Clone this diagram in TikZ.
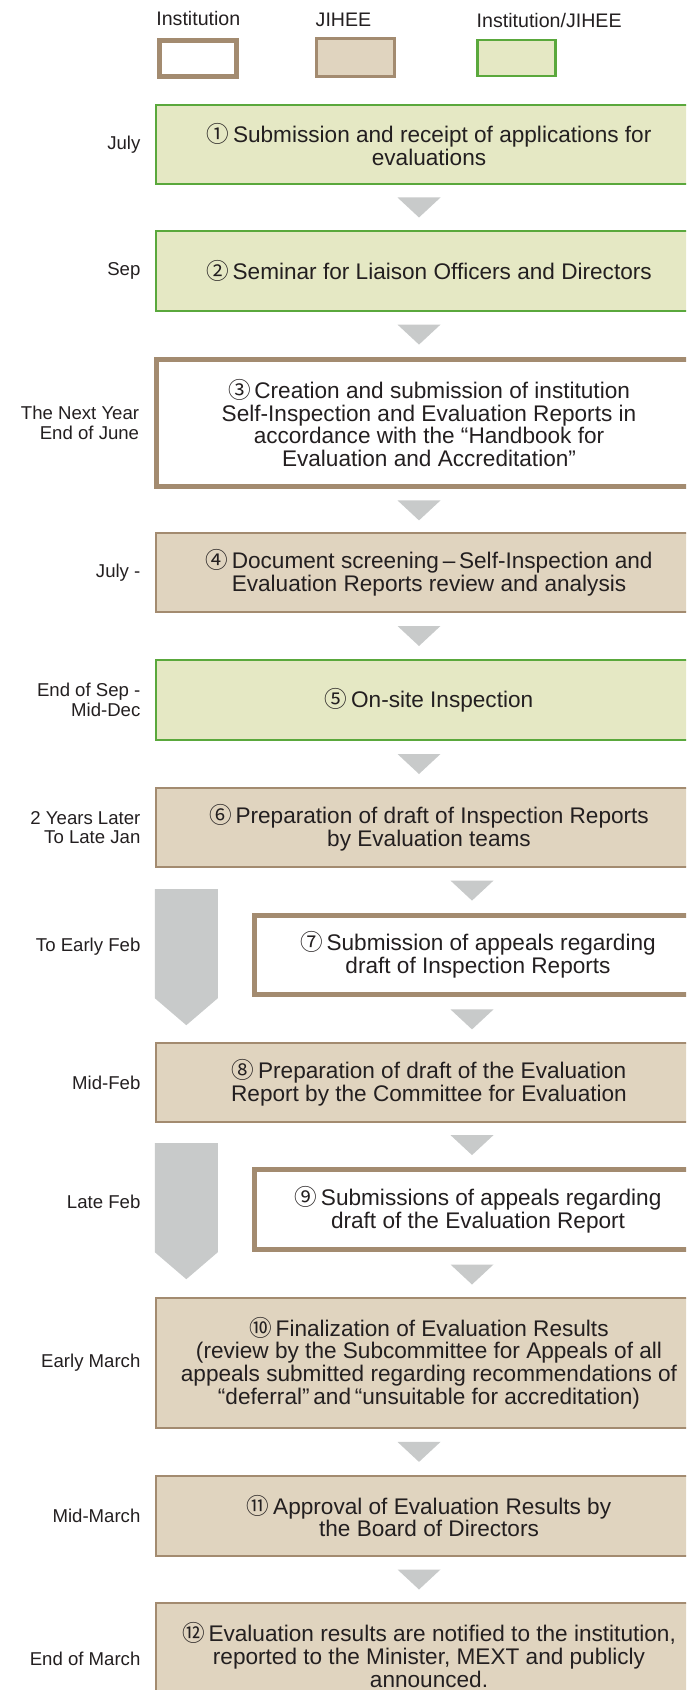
\documentclass[tikz,border=0pt]{standalone}
\usepackage{fontspec}
\setmainfont{Liberation Sans}
\newfontfamily\circfont{Noto Sans CJK JP}
\usepackage{tikz}
\usetikzlibrary{positioning,calc}
\definecolor{instbrown}{RGB}{163,139,112}
\definecolor{jiheetan}{RGB}{224,212,191}
\definecolor{jointgreen}{RGB}{90,168,60}
\definecolor{jointlight}{RGB}{229,232,196}
\definecolor{flowgray}{RGB}{200,202,202}
\definecolor{inktext}{RGB}{35,31,32}
\newcommand{\circnum}[1]{{\circfont #1}\,}

\begin{document}
\begin{tikzpicture}[x=0.5pt, y=-0.5pt,
box/.style={minimum width=273pt, align=center, text=inktext, inner sep=0pt,
font=\fontsize{11.3}{11.35}\selectfont},
instbox/.style={box, draw=instbrown, line width=2.5pt, fill=white},
jiheebox/.style={box, draw=instbrown, line width=1.2pt, fill=jiheetan},
jointbox/.style={box, draw=jointgreen, line width=1.2pt, fill=jointlight},
when/.style={align=right, text=inktext, inner sep=0pt, font=\fontsize{9.3}{9.7}\selectfont},
keytext/.style={text=inktext, inner sep=0pt, font=\fontsize{9.8}{10}\selectfont},
fallmark/.pic={\fill[flowgray] (-21.5,-10) -- (21.5,-10) -- (0,10) -- cycle;},
spanarrow/.pic={\fill[flowgray] (0,0) -- (63,0) -- (63,109) -- (31.5,136) -- (0,109) -- cycle;}
]
\path[use as bounding box] (0,0) rectangle (686,1690);
\clip (0,0) rectangle (686,1690);

% legend
\node[instbox, minimum width=38.5pt, minimum height=18pt] (k1) at (198,58.5) {};
\node[jiheebox, minimum width=39pt, minimum height=19pt] (k2) at (355.5,57.5) {};
\node[jointbox, minimum width=39pt, minimum height=18pt] (k3) at (516.5,58) {};
\node[keytext, anchor=base west] (l1) at ($(k1.north west)+(-1,-12)$) {Institution};
\node[keytext, anchor=base west] (l2) at ($(k2.north west)+(0,-11)$) {JIHEE};
\node[keytext, anchor=base west] (l3) at ($(k3.north west)+(0,-11)$) {Institution/JIHEE};

% steps
\node[jointbox, minimum height=39.5pt] (b1) at (429,144.5)
{\circnum{①}Submission and receipt of applications for\\evaluations};
\node[jointbox, minimum height=40pt] (b2) at (429,271)
{\circnum{②}Seminar for Liaison Officers and Directors};
\node[instbox, minimum height=63.5pt] (b3) at (429,423)
{\circnum{③}Creation and submission of institution\\
Self-Inspection and Evaluation Reports in\\
accordance with the “Handbook for\\
Evaluation and Accreditation”};
\node[jiheebox, minimum height=39.5pt] (b4) at (429,572.5)
{\circnum{④}Document screening\,–\,Self-Inspection and\\
Evaluation Reports review and analysis};
\node[jointbox, minimum height=40pt] (b5) at (429,700)
{\circnum{⑤}On-site Inspection};
\node[jiheebox, minimum height=39.5pt] (b6) at (429,827.5)
{\circnum{⑥}Preparation of draft of Inspection Reports\\by Evaluation teams};
\node[instbox, minimum width=224pt, minimum height=39.5pt] (b7) at (478,955)
{\circnum{⑦}Submission of appeals regarding\\draft of Inspection Reports};
\node[jiheebox, minimum height=39.5pt] (b8) at (429,1082.5)
{\circnum{⑧}Preparation of draft of the Evaluation\\
Report by the Committee for Evaluation};
\node[instbox, minimum width=224pt, minimum height=40pt] (b9) at (478,1209.5)
{\circnum{⑨}Submissions of appeals regarding\\draft of the Evaluation Report};
\node[jiheebox, minimum height=64.8pt] (b10) at (429,1363)
{\circnum{⑩}Finalization of Evaluation Results\\
(review by the Subcommittee for Appeals of all\\
appeals submitted regarding recommendations of\\
“deferral”\,and\,“unsuitable for accreditation)};
\node[jiheebox, minimum height=40pt] (b11) at (429,1516)
{\circnum{⑪}Approval of Evaluation Results by\\the Board of Directors};
\node[jiheebox, minimum height=52pt] (b12) at (429,1655)
{\circnum{⑫}Evaluation results are notified to the institution,\\
reported to the Minister, MEXT and publicly\\announced.};

% timing
\node[when, left=7pt of b1] (t1) {July};
\node[when, left=7pt of b2] (t2) {Sep};
\node[when, left=7pt of b3] (t3) {The Next Year\\End of June};
\node[when, left=7pt of b4] (t4) {July -};
\node[when, left=7pt of b5] (t5) {End of Sep -\\Mid-Dec};
\node[when, left=7pt of b6] (t6) {2 Years Later\\To Late Jan};
\node[when, anchor=east] (t7) at ($(b6.west |- b7.west)+(-14,-8)$) {To Early Feb};
\node[when, left=7pt of b8] (t8) {Mid-Feb};
\node[when, anchor=east] (t9) at ($(b8.west |- b9.west)+(-14,-8)$) {Late Feb};
\node[when, left=7pt of b10] (t10) {Early March};
\node[when, left=7pt of b11] (t11) {Mid-March};
\node[when, anchor=east] (t12) at ($(b11.west |- b12.west)+(-14,4)$) {End of March};

% flow marks
\pic at ($(b1.south)!.5!(b2.north)+(-10,0)$) {fallmark};
\pic at ($(b2.south)!.5!(b3.north)+(-10,0)$) {fallmark};
\pic at ($(b3.south)!.5!(b4.north)+(-10,0)$) {fallmark};
\pic at ($(b4.south)!.5!(b5.north)+(-10,0)$) {fallmark};
\pic at ($(b5.south)!.5!(b6.north)+(-10,0)$) {fallmark};
\pic at ($(b6.south -| b7.north)!.5!(b7.north)+(-6,0)$) {fallmark};
\pic at ($(b7.south)!.5!(b7.south |- b8.north)+(-6,0)$) {fallmark};
\pic at ($(b8.south -| b9.north)!.5!(b9.north)+(-6,0)$) {fallmark};
\pic at ($(b9.south)!.5!(b9.south |- b10.north)+(-6,0)$) {fallmark};
\pic at ($(b10.south)!.5!(b11.north)+(-10,0)$) {fallmark};
\pic at ($(b11.south)!.5!(b12.north)+(-10,0)$) {fallmark};

\pic at ($(b6.south west)+(0,21)$) {spanarrow};
\pic at ($(b8.south west)+(0,20)$) {spanarrow};

\end{tikzpicture}
\end{document}
